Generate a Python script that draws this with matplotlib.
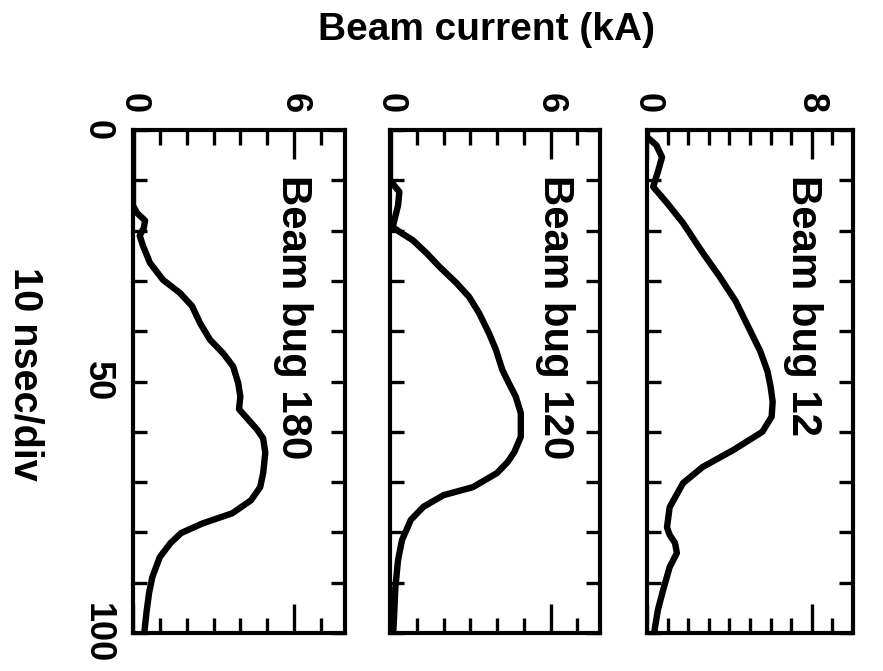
import matplotlib
matplotlib.use("Agg")
import matplotlib.pyplot as plt
from matplotlib import font_manager
from matplotlib.ticker import FixedLocator, FuncFormatter

# beam current (kA) against time (ns) for the three beam bugs
t_180 = [0, 15, 16.5, 18, 19.5, 21, 23, 26.4, 29.8, 32.4, 35, 38.4, 41.7, 44.4,
         47, 50.3, 53, 55.5, 57.3, 59.6, 61.3, 64.2, 68.2, 71, 73.6, 76.2, 78.2,
         80.1, 82.1, 84.9, 88.9, 92, 96, 100]
i_180 = [0, 0, 0.15, 0.45, 0.4, 0.25, 0.37, 0.63, 1.12, 1.75, 2.2, 2.5, 2.87, 3.36,
         3.73, 3.92, 4.0, 3.95, 4.25, 4.63, 4.85, 4.93, 4.85, 4.74, 4.4, 3.7, 2.6,
         1.8, 1.4, 1.0, 0.72, 0.6, 0.5, 0.42]

t_120 = [0, 10, 12.3, 15, 19.3, 20.3, 21.9, 24.5, 27.2, 30.4, 33.2, 36.4, 40.4,
         43.7, 47.7, 50.3, 53, 56.3, 61, 64, 66, 68.2, 71, 72.6, 74.9, 77.5, 81.5,
         85.5, 91, 97, 100]
i_120 = [0, 0, 0.35, 0.3, 0.1, 0.37, 0.85, 1.37, 1.85, 2.48, 2.96, 3.33, 3.7,
         3.96, 4.2, 4.44, 4.7, 4.89, 4.89, 4.65, 4.4, 4.0, 3.1, 2.0, 1.25, 0.78, 0.45,
         0.3, 0.2, 0.15, 0.12]

t_12 = [0, 1.4, 3, 5.4, 8, 11.3, 14.5, 18.5, 24.5, 29, 34, 39, 44, 48, 51, 54, 57,
        60, 63.6, 67, 70.2, 75, 79, 80.5, 82.1, 84.1, 86.9, 91.5, 95.4, 98.8, 100]
i_12 = [0, 0, 0.45, 0.73, 0.55, 0.3, 0.97, 1.75, 2.72, 3.5, 4.3, 4.9, 5.5, 5.85,
        6.0, 6.1, 6.05, 5.6, 4.2, 2.7, 1.75, 1.1, 0.97, 1.1, 1.36, 1.45, 1.1, 0.78,
        0.53, 0.39, 0.35]

labels = ["Beam bug 180", "Beam bug 120", "Beam bug 12"]
current_max = [7.9, 7.85, 10]
current_mark = [6, 6, 8]
time_labels = [0, 50, 100]

names = {f.name for f in font_manager.fontManager.ttflist}
if "Liberation Sans Narrow" in names:
    narrow, scale = "Liberation Sans Narrow", 1.0
else:
    narrow, scale = "Liberation Sans", 0.84

plt.rcParams["font.family"] = [narrow, "DejaVu Sans"]
plt.rcParams["font.weight"] = "bold"
plt.rcParams["ytick.alignment"] = "center"

fig = plt.figure(figsize=(8.83, 6.71), dpi=100)
W, H = 883, 671

# panel frames in pixels: left, right
frames = [(133, 345), (390, 600), (647, 853)]
top, bottom = 130, 633
text_x = [0.755, 0.786, 0.757]

data = [(t_180, i_180), (t_120, i_120), (t_12, i_12)]

for k, ((x0, x1), (t, cur)) in enumerate(zip(frames, data)):
    ax = fig.add_axes([x0 / W, 1 - bottom / H, (x1 - x0) / W, (bottom - top) / H])
    ax.plot(cur, t, color="black", lw=4.6, solid_capstyle="round",
            solid_joinstyle="round")
    ax.set_xlim(0, current_max[k])
    ax.set_ylim(100, 0)
    for s in ax.spines.values():
        s.set_linewidth(3)

    mark = current_mark[k]
    ax.xaxis.set_major_locator(FixedLocator([0, mark]))
    minors = [v for v in range(1, int(current_max[k]) + 1)
              if v != mark and v < current_max[k] - 0.3]
    ax.xaxis.set_minor_locator(FixedLocator(minors))
    ax.xaxis.set_major_formatter(FuncFormatter(lambda v, p: f"{v:g}"))
    ax.tick_params(axis="x", which="both", direction="in", top=True, bottom=True,
                   labeltop=True, labelbottom=False, width=2.4)
    ax.tick_params(axis="x", which="major", length=21, pad=12,
                   labelsize=31 * scale, labelrotation=-90)
    ax.tick_params(axis="x", which="minor", length=11)

    ax.yaxis.set_major_locator(FixedLocator(range(0, 101, 10)))
    ax.yaxis.set_major_formatter(
        FuncFormatter(lambda v, p: f"{v:g}" if v in time_labels else ""))
    ax.tick_params(axis="y", which="major", direction="in", left=True, right=True,
                   length=10, width=2.4, labelleft=(k == 0), pad=13,
                   labelsize=31 * scale, labelrotation=-90)

    ax.text(text_x[k], 0.91, labels[k], transform=ax.transAxes, rotation=-90,
            rotation_mode="anchor", ha="left", va="center", fontsize=36 * scale)

fig.text(487 / W, 1 - 30 / H, "Beam current (kA)", ha="center", va="center",
         fontsize=28, family="Liberation Sans", weight="bold")
fig.text(25 / W, 1 - 374 / H, "10 nsec/div", rotation=-90, ha="center",
         va="center", fontsize=34 * scale)

fig.savefig("out.png", dpi=100)
